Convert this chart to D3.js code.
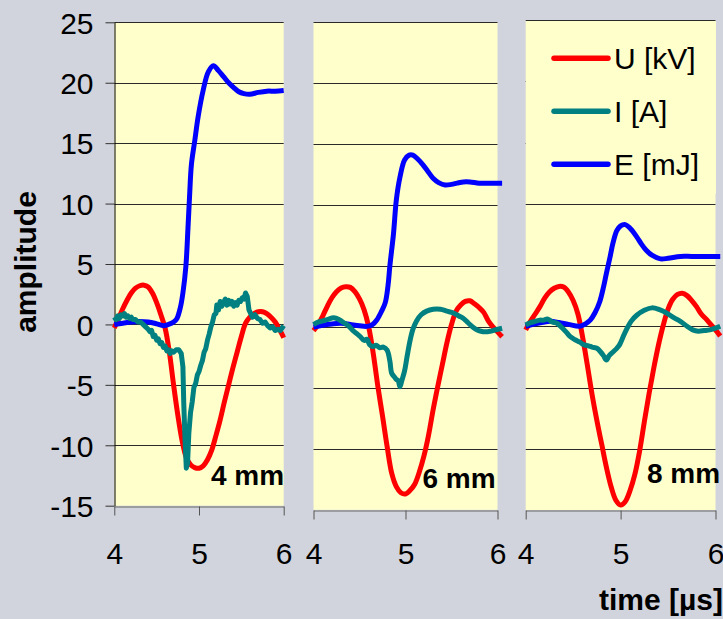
<!DOCTYPE html>
<html>
<head>
<meta charset="utf-8">
<script src="https://cdn.jsdelivr.net/npm/d3@7"></script>
<style>
  body { margin: 0; background: #d1d4dc; }
  svg { display: block; font-family: "Liberation Sans", Arial, sans-serif; }
</style>
</head>
<body>
<div id="chart"></div>
<script>
// [time in µs, value]
const u4mm = [[4.00,-0.3],[4.05,0.5],[4.10,1.3],[4.15,2.0],[4.20,2.6],[4.25,3.0],[4.30,3.2],[4.35,3.25],[4.40,3.1],[4.45,2.6],[4.50,1.8],[4.55,0.8],[4.60,-0.3],[4.65,-2.3],[4.70,-5.0],[4.75,-7.5],[4.80,-9.6],[4.85,-11.0],[4.90,-11.6],[4.95,-11.85],[5.00,-11.9],[5.05,-11.7],[5.10,-11.2],[5.15,-10.4],[5.20,-9.2],[5.25,-7.9],[5.30,-6.4],[5.35,-5.0],[5.40,-3.6],[5.45,-2.3],[5.50,-1.0],[5.55,0.1],[5.60,0.6],[5.65,0.9],[5.70,1.05],[5.75,1.05],[5.80,0.9],[5.85,0.6],[5.90,0.2],[5.95,-0.4],[6.00,-1.1]];
const i4mm = [[4.00,0.6],[4.02,0.4],[4.04,0.7],[4.06,0.5],[4.08,0.8],[4.10,0.7],[4.12,0.9],[4.14,0.6],[4.16,0.7],[4.18,0.5],[4.20,0.6],[4.22,0.4],[4.25,0.4],[4.28,0.2],[4.31,0.2],[4.34,0.0],[4.37,-0.2],[4.40,-0.4],[4.42,-0.6],[4.44,-0.5],[4.46,-1.0],[4.48,-0.9],[4.50,-1.3],[4.52,-1.2],[4.54,-1.6],[4.56,-1.5],[4.58,-1.9],[4.60,-1.8],[4.62,-2.2],[4.64,-2.1],[4.66,-2.4],[4.68,-2.2],[4.70,-2.3],[4.73,-2.1],[4.76,-2.1],[4.79,-2.4],[4.81,-3.5],[4.82,-6.5],[4.835,-9.5],[4.85,-11.9],[4.865,-11.5],[4.88,-9.0],[4.90,-7.3],[4.92,-6.4],[4.94,-5.2],[4.96,-4.9],[4.98,-4.2],[5.00,-3.9],[5.02,-3.4],[5.04,-3.0],[5.06,-2.3],[5.08,-2.0],[5.10,-1.3],[5.12,-0.8],[5.14,-0.2],[5.16,0.2],[5.18,0.8],[5.20,0.9],[5.21,1.6],[5.23,1.2],[5.25,1.9],[5.27,1.5],[5.29,1.8],[5.31,2.1],[5.33,1.6],[5.35,2.0],[5.37,1.7],[5.39,1.9],[5.41,1.5],[5.43,1.8],[5.45,1.6],[5.47,2.0],[5.49,1.9],[5.51,2.2],[5.53,2.1],[5.55,2.6],[5.57,2.3],[5.59,1.2],[5.61,0.9],[5.63,0.6],[5.66,0.8],[5.69,0.5],[5.72,0.4],[5.75,0.1],[5.78,0.2],[5.81,-0.1],[5.84,-0.3],[5.87,-0.2],[5.90,-0.5],[5.93,-0.4],[5.96,-0.5],[6.00,-0.1]];
const e4mm = [[4.00,0.0],[4.10,0.1],[4.20,0.2],[4.30,0.25],[4.40,0.2],[4.50,0.05],[4.58,-0.1],[4.64,0.0],[4.70,0.2],[4.74,0.5],[4.78,1.4],[4.81,2.6],[4.845,4.8],[4.87,8.0],[4.89,10.8],[4.91,13.2],[4.95,15.2],[4.99,17.2],[5.05,19.4],[5.11,20.9],[5.17,21.4],[5.23,21.0],[5.29,20.5],[5.35,20.0],[5.41,19.6],[5.47,19.25],[5.53,19.1],[5.60,19.05],[5.70,19.2],[5.80,19.3],[5.90,19.3],[6.00,19.35]];

const u6mm = [[4.00,-0.3],[4.05,0.2],[4.10,0.9],[4.15,1.7],[4.20,2.4],[4.25,2.9],[4.30,3.2],[4.35,3.3],[4.40,3.25],[4.45,2.9],[4.50,2.3],[4.55,1.4],[4.60,0.0],[4.65,-2.2],[4.70,-4.9],[4.75,-7.3],[4.80,-9.8],[4.85,-12.0],[4.90,-13.1],[4.95,-13.6],[5.00,-13.7],[5.05,-13.4],[5.10,-12.9],[5.15,-11.9],[5.20,-10.6],[5.25,-8.9],[5.30,-6.8],[5.35,-4.9],[5.40,-3.1],[5.45,-1.3],[5.50,0.2],[5.55,1.3],[5.60,1.8],[5.65,2.1],[5.70,2.15],[5.75,1.9],[5.80,1.6],[5.85,1.2],[5.90,0.5],[5.95,0.0],[6.00,-0.4],[6.05,-0.8]];
const i6mm = [[4.00,0.2],[4.05,0.4],[4.10,0.5],[4.15,0.6],[4.22,0.75],[4.28,0.6],[4.33,0.35],[4.38,0.1],[4.43,-0.3],[4.48,-0.6],[4.51,-0.8],[4.55,-1.1],[4.58,-1.0],[4.61,-1.45],[4.65,-1.6],[4.68,-1.5],[4.72,-1.7],[4.76,-1.65],[4.80,-1.9],[4.83,-2.8],[4.85,-3.8],[4.88,-4.1],[4.90,-4.3],[4.92,-4.4],[4.94,-4.9],[4.96,-4.4],[4.99,-3.6],[5.02,-2.3],[5.05,-1.1],[5.08,-0.2],[5.12,0.5],[5.17,1.0],[5.23,1.3],[5.30,1.45],[5.38,1.45],[5.45,1.3],[5.52,1.15],[5.58,0.9],[5.63,0.7],[5.68,0.35],[5.73,0.0],[5.77,-0.2],[5.82,-0.35],[5.87,-0.4],[5.92,-0.35],[5.97,-0.25],[6.05,-0.1]];
const e6mm = [[4.00,0.0],[4.10,0.15],[4.20,0.25],[4.30,0.3],[4.40,0.2],[4.50,0.1],[4.58,0.05],[4.64,0.2],[4.69,0.6],[4.74,1.3],[4.78,2.0],[4.81,3.4],[4.83,5.0],[4.87,7.7],[4.90,10.4],[4.94,12.3],[4.99,13.7],[5.04,14.1],[5.08,14.1],[5.13,13.8],[5.19,13.3],[5.25,12.7],[5.30,12.2],[5.36,11.85],[5.43,11.65],[5.50,11.7],[5.56,11.8],[5.63,11.9],[5.70,11.9],[5.80,11.8],[5.90,11.8],[6.05,11.8]];

const u8mm = [[4.00,-0.3],[4.05,0.4],[4.10,1.0],[4.15,1.6],[4.20,2.3],[4.25,2.8],[4.30,3.1],[4.35,3.25],[4.40,3.2],[4.45,2.8],[4.50,2.1],[4.55,1.0],[4.60,-0.9],[4.65,-3.2],[4.70,-5.6],[4.75,-7.7],[4.80,-9.6],[4.85,-11.5],[4.90,-13.1],[4.95,-14.2],[5.00,-14.6],[5.05,-14.3],[5.10,-13.4],[5.15,-12.1],[5.20,-10.2],[5.25,-7.8],[5.30,-5.5],[5.35,-3.4],[5.40,-1.5],[5.45,0.1],[5.50,1.4],[5.55,2.2],[5.60,2.6],[5.65,2.7],[5.70,2.5],[5.75,2.1],[5.80,1.6],[5.85,1.0],[5.90,0.6],[5.95,0.15],[6.00,-0.3],[6.05,-0.8]];
const i8mm = [[4.00,0.1],[4.05,0.3],[4.10,0.4],[4.15,0.5],[4.19,0.5],[4.23,0.6],[4.28,0.35],[4.33,0.25],[4.38,-0.1],[4.43,-0.5],[4.47,-0.85],[4.52,-1.1],[4.57,-1.3],[4.61,-1.5],[4.66,-1.6],[4.70,-1.7],[4.75,-1.8],[4.79,-2.1],[4.82,-2.4],[4.85,-2.75],[4.88,-2.4],[4.92,-2.1],[4.96,-1.8],[4.99,-1.5],[5.03,-0.8],[5.06,-0.3],[5.11,0.4],[5.17,0.9],[5.25,1.3],[5.33,1.5],[5.41,1.35],[5.49,1.05],[5.56,0.7],[5.63,0.4],[5.70,0.0],[5.76,-0.3],[5.82,-0.4],[5.88,-0.35],[5.94,-0.3],[6.05,0.0]];
const e8mm = [[4.00,0.0],[4.10,0.2],[4.20,0.35],[4.26,0.4],[4.35,0.3],[4.45,0.15],[4.57,0.0],[4.63,0.2],[4.68,0.5],[4.73,1.1],[4.78,2.0],[4.82,3.2],[4.85,4.3],[4.89,5.7],[4.92,6.8],[4.96,7.8],[5.00,8.2],[5.05,8.3],[5.10,8.0],[5.17,7.3],[5.22,6.7],[5.27,6.2],[5.33,5.8],[5.42,5.5],[5.50,5.55],[5.63,5.7],[5.75,5.7],[5.90,5.7],[6.05,5.7]];

const seriesNames = ["U [kV]", "I [A]", "E [mJ]"];
const seriesColors = ["#ff0000", "#008080", "#0000ff"];
const panelLabels = ["4 mm", "6 mm", "8 mm"];
const yTicks = [25, 20, 15, 10, 5, 0, -5, -10, -15];
const xTicks = [4, 5, 6];

const width = 723, height = 619;

// plot-area boxes, one excel chart each (they're not quite the same size)
const layout = [
    {x0: 114.3, x1: 283.7, y0: 22.3, y1: 505.7, lx: 211, ly: 485, yAxis: true},
    {x0: 313.5, x1: 497.5, y0: 22.3, y1: 509.8, lx: 422.5, ly: 488.3, yAxis: false},
    {x0: 525.7, x1: 715.5, y0: 20.0, y1: 510.0, lx: 647, ly: 483.3, yAxis: false}
];
const panelSeries = [
    [u4mm, e4mm, i4mm],
    [u6mm, e6mm, i6mm],
    [u8mm, e8mm, i8mm]
];
const drawOrder = [0, 2, 1]; // U, E, then I on top

let svg = d3.select("#chart")
    .append("svg")
    .attr("width", width)
    .attr("height", height);

svg.append("rect")
    .attr("width", width)
    .attr("height", height)
    .attr("fill", "#d1d4dc");

for (let p = 0; p < layout.length; p++) {
    let box = layout[p];
    let g = svg.append("g");

    let xScale = d3.scaleLinear().domain([4, 6]).range([box.x0, box.x1]);
    let yScale = d3.scaleLinear().domain([-15, 25]).range([box.y1, box.y0]);

    g.append("rect")
        .attr("x", box.x0)
        .attr("y", box.y0)
        .attr("width", box.x1 - box.x0)
        .attr("height", box.y1 - box.y0)
        .attr("fill", "#ffffcc");

    // gridlines
    g.selectAll(".grid")
        .data(yTicks.filter(d => d > -15))
        .enter()
        .append("line")
        .attr("x1", box.x0)
        .attr("x2", box.x1)
        .attr("y1", d => Math.round(yScale(d)) + 0.5)
        .attr("y2", d => Math.round(yScale(d)) + 0.5)
        .attr("stroke", "#2a2a2a")
        .attr("stroke-width", 1);

    // x axis
    let xAxis = g.append("g")
        .attr("transform", "translate(0," + (Math.round(box.y1) + 0.5) + ")")
        .call(d3.axisBottom(xScale).tickValues(xTicks).tickSize(9).tickSizeOuter(0).tickFormat(d => String(d)));
    xAxis.select(".domain").attr("stroke", "#666");
    xAxis.selectAll(".tick line").attr("stroke", "#555");
    xAxis.selectAll(".tick text")
        .attr("y", 0)
        .attr("dy", 0)
        .attr("transform", "translate(0," + (563 - box.y1) + ")")
        .attr("font-size", "30px")
        .attr("font-family", "Liberation Sans, Arial, sans-serif")
        .attr("fill", "#000");

    if (box.yAxis) {
        let yAxis = g.append("g")
            .attr("transform", "translate(" + (Math.round(box.x0) + 0.5) + ",0)")
            .call(d3.axisLeft(yScale).tickValues(yTicks).tickSize(9).tickSizeOuter(0).tickFormat(d => String(d)));
        yAxis.select(".domain").attr("stroke", "#000");
        yAxis.selectAll(".tick line").attr("stroke", "#333");
        yAxis.selectAll(".tick text")
            .attr("x", -21)
            .attr("dy", "0.36em")
            .attr("font-size", "30px")
            .attr("font-family", "Liberation Sans, Arial, sans-serif")
            .attr("fill", "#000");
    }

    let line = d3.line()
        .x(d => xScale(d[0]))
        .y(d => yScale(d[1]));

    for (let k of [0, 1, 2]) {
        let s = drawOrder[k];
        let data = panelSeries[p][k];
        let curve = (s === 1 && p === 0) ? d3.curveLinear : d3.curveCatmullRom;
        g.append("path")
            .datum(data)
            .attr("d", line.curve(curve))
            .attr("fill", "none")
            .attr("stroke", seriesColors[s])
            .attr("stroke-width", 5)
            .attr("stroke-linejoin", "round");
    }

    g.append("text")
        .attr("x", box.lx)
        .attr("y", box.ly)
        .attr("font-size", "28px")
        .attr("font-weight", "bold")
        .attr("fill", "#000")
        .text(panelLabels[p]);
}

// legend sits in the third panel, covering its upper gridlines
let legend = svg.append("g");
legend.append("rect")
    .attr("x", 526)
    .attr("y", 21.5)
    .attr("width", 190)
    .attr("height", 172)
    .attr("fill", "#ffffcc");

let legendY = d3.scalePoint().domain(seriesNames).range([58.3, 164.3]);
legend.selectAll(".legline")
    .data(seriesNames)
    .enter()
    .append("line")
    .attr("x1", 554)
    .attr("x2", 608)
    .attr("y1", d => legendY(d))
    .attr("y2", d => legendY(d))
    .attr("stroke", (d, i) => seriesColors[i])
    .attr("stroke-width", 5.5)
    .attr("stroke-linecap", "round");
legend.selectAll(".legtext")
    .data(seriesNames)
    .enter()
    .append("text")
    .attr("x", 614)
    .attr("y", d => legendY(d) + 11)
    .attr("font-size", "30px")
    .attr("fill", "#000")
    .text(d => d);

svg.append("text")
    .attr("transform", "translate(36,262) rotate(-90)")
    .attr("text-anchor", "middle")
    .attr("font-size", "30px")
    .attr("font-weight", "bold")
    .attr("fill", "#000")
    .text("amplitude");

svg.append("text")
    .attr("x", 599)
    .attr("y", 610)
    .attr("font-size", "30px")
    .attr("font-weight", "bold")
    .attr("fill", "#000")
    .text("time [µs]");
</script>
</body>
</html>
